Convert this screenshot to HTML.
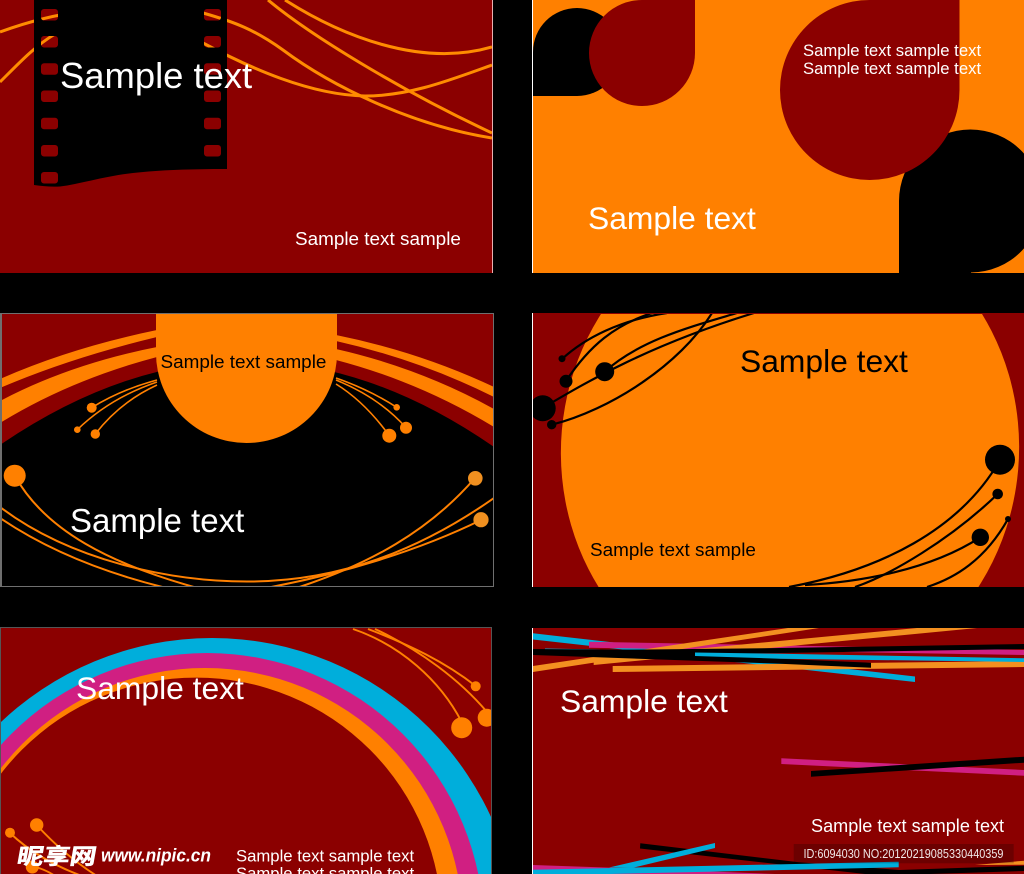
<!DOCTYPE html>
<html lang="en">
<head>
<meta charset="utf-8">
<title>Sample layouts</title>
<style>
html,body{margin:0;padding:0;background:#000;width:1024px;height:874px;overflow:hidden}
svg{display:block}
text{font-family:"Liberation Sans","Noto Sans CJK SC",sans-serif}
</style>
</head>
<body>
<svg xmlns="http://www.w3.org/2000/svg" width="1024" height="874" viewBox="0 0 1024 874">
<defs>
<clipPath id="c1"><rect x="0" y="0" width="492" height="273"/></clipPath>
<clipPath id="c2"><rect x="533" y="0" width="491" height="273"/></clipPath>
<clipPath id="c3"><rect x="2" y="314" width="491" height="272"/></clipPath>
<clipPath id="c4"><rect x="533" y="314" width="491" height="273"/></clipPath>
<clipPath id="c5"><rect x="1" y="628" width="490" height="246"/></clipPath>
<clipPath id="c6"><rect x="533" y="628" width="491" height="246"/></clipPath>
</defs>
<rect width="1024" height="874" fill="#000"/>

<!-- Panel 1 -->
<rect x="0" y="0" width="492" height="273" fill="#8b0000"/>
<rect x="492" y="0" width="1" height="273" fill="#e8b0b0"/>
<g clip-path="url(#c1)" fill="none" stroke="#ff8c00" stroke-width="3">
<path d="M0 32C30 21 60 14 85 11C120 5 170 5 203 13C235 22 255 30 283 50C330 85 410 125 492 138"/>
<path d="M0 82C20 62 35 46 55 34C100 10 160 20 203 43C250 68 310 95 365 96C410 96 450 80 492 65"/>
<path d="M268 0C310 35 400 90 492 133"/>
<path d="M285 0C340 35 420 68 492 47"/>
</g>
<path fill="#000" fill-rule="evenodd" d="M34 0H227V169C190 169 160 170 133 173C105 176 80 184 60 186.5C50 187 42 186 34 185Z
M44 9h11a3 3 0 0 1 3 3v5.500a3 3 0 0 1-3 3h-11a3 3 0 0 1-3-3v-5.500a3 3 0 0 1 3-3z
M44 36h11a3 3 0 0 1 3 3v5.500a3 3 0 0 1-3 3h-11a3 3 0 0 1-3-3v-5.500a3 3 0 0 1 3-3z
M44 63.300h11a3 3 0 0 1 3 3v5.500a3 3 0 0 1-3 3h-11a3 3 0 0 1-3-3v-5.500a3 3 0 0 1 3-3z
M44 90.500h11a3 3 0 0 1 3 3v5.500a3 3 0 0 1-3 3h-11a3 3 0 0 1-3-3v-5.500a3 3 0 0 1 3-3z
M44 117.700h11a3 3 0 0 1 3 3v5.500a3 3 0 0 1-3 3h-11a3 3 0 0 1-3-3v-5.500a3 3 0 0 1 3-3z
M44 145h11a3 3 0 0 1 3 3v5.500a3 3 0 0 1-3 3h-11a3 3 0 0 1-3-3v-5.500a3 3 0 0 1 3-3z
M44 172h11a3 3 0 0 1 3 3v5.500a3 3 0 0 1-3 3h-11a3 3 0 0 1-3-3v-5.500a3 3 0 0 1 3-3z
M207 9h11a3 3 0 0 1 3 3v5.500a3 3 0 0 1-3 3h-11a3 3 0 0 1-3-3v-5.500a3 3 0 0 1 3-3z
M207 36h11a3 3 0 0 1 3 3v5.500a3 3 0 0 1-3 3h-11a3 3 0 0 1-3-3v-5.500a3 3 0 0 1 3-3z
M207 63.300h11a3 3 0 0 1 3 3v5.500a3 3 0 0 1-3 3h-11a3 3 0 0 1-3-3v-5.500a3 3 0 0 1 3-3z
M207 90.500h11a3 3 0 0 1 3 3v5.500a3 3 0 0 1-3 3h-11a3 3 0 0 1-3-3v-5.500a3 3 0 0 1 3-3z
M207 117.700h11a3 3 0 0 1 3 3v5.500a3 3 0 0 1-3 3h-11a3 3 0 0 1-3-3v-5.500a3 3 0 0 1 3-3z
M207 145h11a3 3 0 0 1 3 3v5.500a3 3 0 0 1-3 3h-11a3 3 0 0 1-3-3v-5.500a3 3 0 0 1 3-3z"/>
<text x="60" y="88" font-size="36.400" fill="#fff">Sample text</text>
<text x="295" y="245" font-size="18.900" fill="#fff">Sample text sample</text>

<!-- Panel 2 -->
<rect x="532" y="0" width="492" height="273" fill="#ff8000"/>
<rect x="532" y="0" width="1" height="273" fill="#fff"/>
<g clip-path="url(#c2)">
<path fill="#000" d="M533 96V52A44 44 0 0 1 621 52A44 44 0 0 1 577 96Z"/>
<path fill="#8b0000" d="M642 0H695V53A53 53 0 1 1 642 0Z"/>
<path fill="#000" d="M899 273V201A71.500 71.500 0 1 1 971 272.500V273Z"/>
<path fill="#8b0000" d="M870 0H959.500V90A89.750 90 0 1 1 870 0Z"/>
</g>
<text x="803" y="56" font-size="16.700" fill="#fff">Sample text sample text</text>
<text x="803" y="74" font-size="16.700" fill="#fff">Sample text sample text</text>
<text x="588" y="229" font-size="31.800" fill="#fff">Sample text</text>

<!-- Panel 3 -->
<rect x="0" y="313" width="494" height="274" fill="#6f6f6f"/>
<rect x="2" y="314" width="491" height="272" fill="#8b0000"/>
<g clip-path="url(#c3)">
<path fill="#ff8000" d="M0 379Q70 348 157 330V337Q70 358 0 388Z"/>
<path fill="#ff8000" d="M0 401Q70 364 157 347V357Q70 380 0 423Z"/>
<path fill="#ff8000" d="M336 335Q420 352 494 387V397Q420 360 336 341Z"/>
<path fill="#ff8000" d="M336 349Q420 368 494 409V427Q420 382 336 360Z"/>
<path fill="#000" d="M0 445Q247 276 494 447V590H0Z"/>
<g fill="none" stroke="#ff8000" stroke-width="1.600">
<path d="M157 380Q120 390 91.700 407.700"/>
<path d="M157 382Q110 398 77.300 429.700"/>
<path d="M157 385Q120 402 95.300 434"/>
<path d="M336 378Q370 390 396.700 407.300"/>
<path d="M336 380Q380 398 406 427.700"/>
<path d="M336 384Q365 402 389.300 435.700"/>
<path stroke-width="2" d="M15 476C45 530 110 565 205 590"/>
<path stroke-width="2" d="M0 507C70 560 170 582 250 581.500C340 581 420 550 494 498"/>
<path stroke-width="2" d="M0 518C50 552 110 575 175 590"/>
<path stroke-width="2" d="M475 478C430 530 370 565 290 590"/>
<path stroke-width="2" d="M481 520C420 550 340 575 255 590"/>
</g>
<path fill="#ff8000" d="M156 313H337V353A90.500 90 0 0 1 156 353Z"/>
<g fill="#ff8000">
<circle cx="91.700" cy="407.700" r="5"/><circle cx="77.300" cy="429.700" r="3.300"/><circle cx="95.300" cy="434" r="4.700"/>
<circle cx="396.700" cy="407.300" r="3.300"/><circle cx="406" cy="427.700" r="6"/><circle cx="389.300" cy="435.700" r="7"/>
<circle cx="14.700" cy="475.700" r="11"/>
</g>
<circle cx="475.300" cy="478.300" r="7.300" fill="#f09020"/>
<circle cx="481" cy="519.700" r="7.600" fill="#f09020"/>
</g>
<text x="160.500" y="368" font-size="18.900" fill="#000">Sample text sample</text>
<text x="70" y="532" font-size="33" fill="#fff">Sample text</text>

<!-- Panel 4 -->
<rect x="532" y="313" width="492" height="274" fill="#8b0000"/>
<rect x="532" y="313" width="1" height="274" fill="#fff"/>
<g clip-path="url(#c4)">
<ellipse cx="790" cy="450" rx="229" ry="245" transform="rotate(5 790 450)" fill="#ff8000"/>
<g fill="none" stroke="#000" stroke-width="2.200">
<path d="M562 359C585 338 620 320 667 313"/>
<path d="M566 381C590 345 615 325 652 313"/>
<path d="M604.700 371.700C640 340 690 327 737 313"/>
<path d="M542.700 408C590 380 650 345 754 313"/>
<path d="M551.700 424.700C610 410 680 365 712 313"/>
<path d="M1000 460C960 530 880 570 789 587"/>
<path d="M997.700 494C950 540 890 575 855 587"/>
<path d="M980.300 537.300C930 570 860 582 805 585"/>
<path d="M1008 519C985 560 955 578 927 587"/>
</g>
<g fill="#000">
<circle cx="562" cy="358.700" r="3.500"/><circle cx="566" cy="381.300" r="6.500"/><circle cx="604.700" cy="371.700" r="9.500"/>
<circle cx="542.700" cy="408.300" r="13"/><circle cx="551.700" cy="424.700" r="4.700"/>
<circle cx="1000" cy="459.700" r="15"/><circle cx="997.700" cy="494" r="5.300"/><circle cx="980.300" cy="537.300" r="8.700"/><circle cx="1008" cy="519" r="3"/>
</g>
</g>
<text x="740" y="372" font-size="31.800" fill="#000">Sample text</text>
<text x="590" y="556" font-size="18.900" fill="#000">Sample text sample</text>

<!-- Panel 5 -->
<rect x="0" y="627" width="492" height="247" fill="#555"/>
<rect x="1" y="628" width="490" height="246" fill="#8b0000"/>
<g clip-path="url(#c5)">
<circle cx="212" cy="945" r="307" fill="#00aedb"/>
<circle cx="207" cy="930" r="277" fill="#d01f82"/>
<circle cx="205" cy="926" r="258" fill="#ff8000"/>
<circle cx="196" cy="923.600" r="246" fill="#8b0000"/>
<g fill="none" stroke="#ff8000" stroke-width="1.900">
<path d="M353 629C400 645 440 680 461.700 722"/>
<path d="M368 629C410 645 445 662 475.700 686"/>
<path d="M375 629C420 650 460 680 487 712"/>
<path d="M36.700 825C55 845 75 862 97 876"/>
<path d="M10 833C30 852 55 866 82 876"/>
<path d="M32 866C40 868 48 871 55 876"/>
</g>
<g fill="#ff8000">
<circle cx="475.700" cy="686.300" r="5"/><circle cx="461.700" cy="727.700" r="10.500"/><circle cx="486.700" cy="717.700" r="9"/>
<circle cx="10" cy="832.700" r="5"/><circle cx="36.700" cy="825" r="6.700"/><circle cx="32.300" cy="867" r="6.500"/>
</g>
<text x="76" y="699" font-size="31.800" fill="#fff">Sample text</text>
<text x="236" y="861.500" font-size="16.700" fill="#fff">Sample text sample text</text>
<text x="236" y="879" font-size="16.700" fill="#fff">Sample text sample text</text>
<g transform="translate(16 864) skewX(-10) scale(1.200 1)"><text x="0" y="0" font-size="22" font-weight="bold" fill="#fff" stroke="#fff" stroke-width="0.500" style="font-family:'Noto Sans CJK SC','WenQuanYi Zen Hei',sans-serif">昵享网</text></g>
<text x="101" y="861.700" font-size="18" font-weight="bold" font-style="italic" fill="#fff" textLength="110" lengthAdjust="spacingAndGlyphs">www.nipic.cn</text>
</g>

<!-- Panel 6 -->
<rect x="532" y="628" width="492" height="246" fill="#8b0000"/>
<rect x="532" y="628" width="1" height="246" fill="#fff"/>
<g clip-path="url(#c6)">
<polygon fill="#00aedb" points="533,633.300 915,676.500 915,682 533,639.500"/>
<polygon fill="#d01f82" points="589,641.700 1024,650 1024,655 589,647.700"/>
<polygon fill="#f39020" points="533,666 788,628 819,628 533,672"/>
<polygon fill="#f39020" points="593.700,658.500 917,628 977,628 593.700,665"/>
<polygon fill="#f39020" points="612.700,666 1024,661 1024,667 612.700,672"/>
<polygon fill="#00aedb" points="545,648.500 690,651 690,652.500 545,650"/>
<polygon fill="#000" points="600,650 780,648 1024,644 1024,649 780,653 600,656"/>
<polygon fill="#000" points="533,649 660,650 780,658.700 871,662.700 871,667.700 780,663.700 533,655"/>
<polygon fill="#00aedb" points="695,652.500 780,653.700 1024,658.300 1024,662 780,658.700 695,656"/>
<polygon fill="#d01f82" points="781.300,758.300 1024,770 1024,775.700 781.300,764"/>
<polygon fill="#000" points="811,771 1024,756.700 1024,762.700 811,776.700"/>
<polygon fill="#d01f82" points="533,865 620,868 775,874 533,874"/>
<polygon fill="#000" points="640.300,843.300 799,862.300 899,870 1024,865.700 1024,871 930,874 865,874 640,848.500"/>
<polygon fill="#f39020" points="975,865 1024,860.700 1024,864.700"/>
<polygon fill="#00aedb" points="715,843 715,848 632,868 609,867.500"/>
<polygon fill="#00aedb" points="533,869.700 898.700,861.700 898.700,867.300 609,874 533,874"/>
</g>
<text x="560" y="712" font-size="31.800" fill="#fff">Sample text</text>
<text x="811" y="832" font-size="18.100" fill="#fff">Sample text sample text</text>
<rect x="793.700" y="844" width="220" height="19.300" fill="#000" fill-opacity="0.22"/>
<text x="803.500" y="858" font-size="12.500" fill="#fff" fill-opacity="0.9" textLength="200" lengthAdjust="spacingAndGlyphs">ID:6094030 NO:20120219085330440359</text>
</svg>
</body>
</html>
